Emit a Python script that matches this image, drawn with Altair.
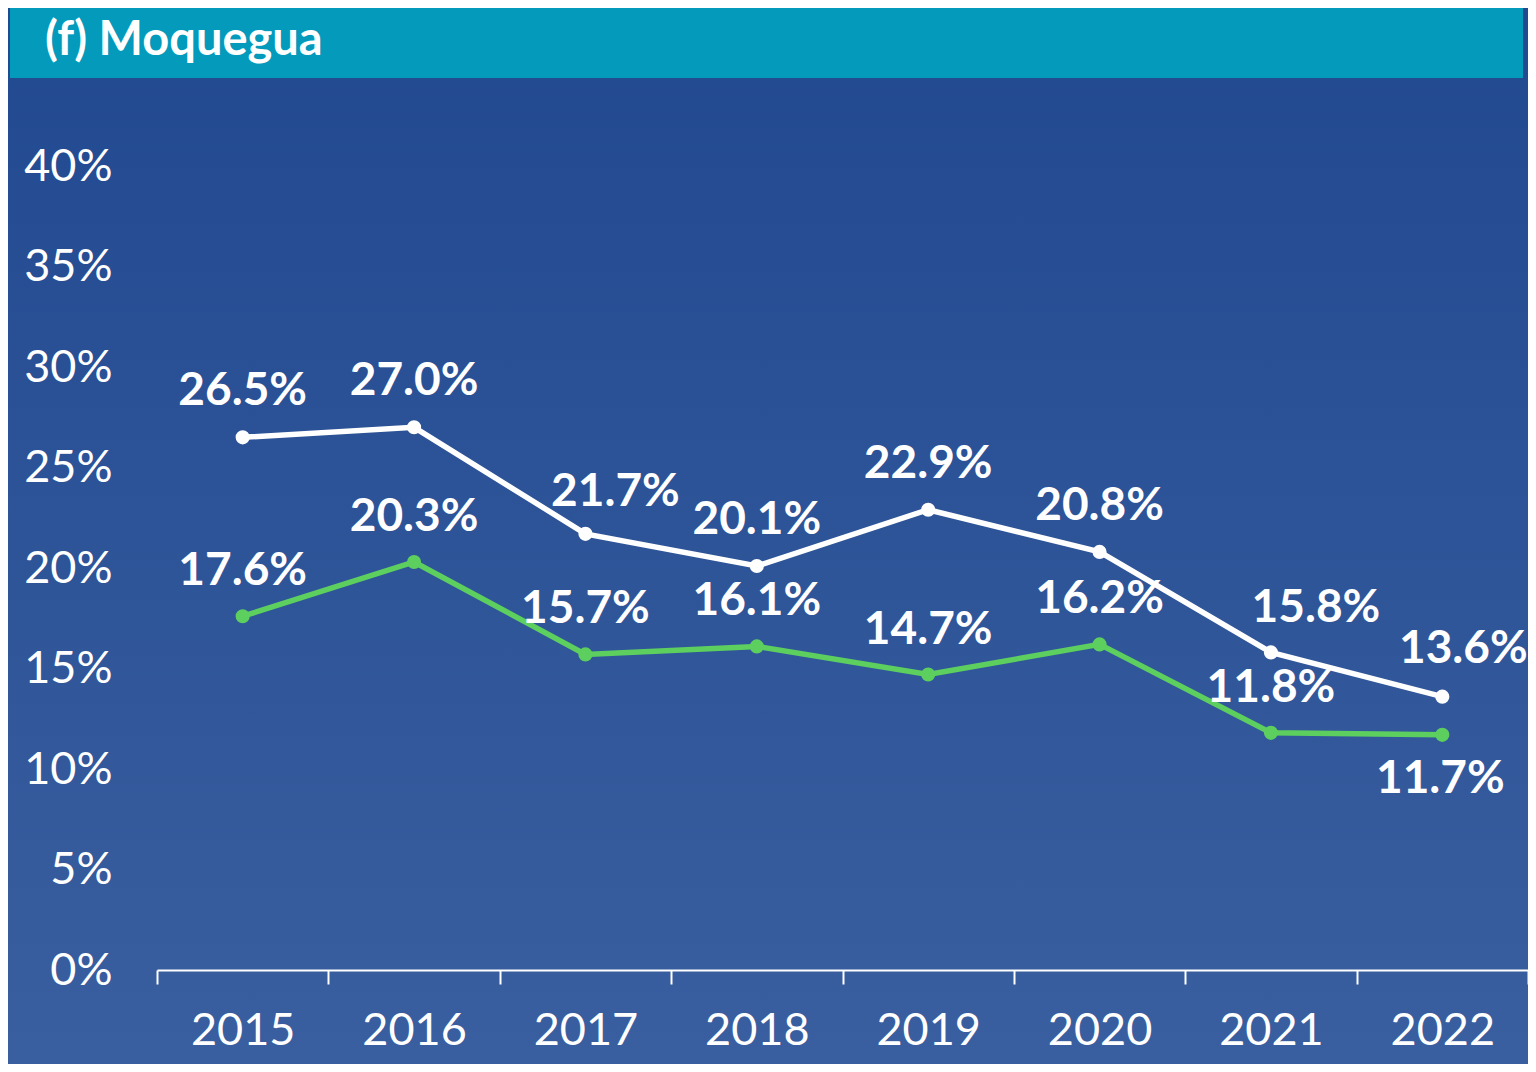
import json
import altair as alt
import pandas as pd

years = ["2015", "2016", "2017", "2018", "2019", "2020", "2021", "2022"]
series_white = [26.5, 27.0, 21.7, 20.1, 22.9, 20.8, 15.8, 13.6]
series_green = [17.6, 20.3, 15.7, 16.1, 14.7, 16.2, 11.8, 11.7]
series_names = ["Serie 1", "Serie 2"]
y_ticks = [0, 5, 10, 15, 20, 25, 30, 35, 40]
title_text = "(f) Moquegua"

rows = []
for y, v in zip(years, series_white):
    rows.append({"year": y, "value": v, "series": series_names[0]})
for y, v in zip(years, series_green):
    rows.append({"year": y, "value": v, "series": series_names[1]})
df = pd.DataFrame(rows)
df["label"] = df["value"].map(lambda v: f"{v:.1f}%")

FONT = "Lato"
W, H = 1371, 804
PL, PT, PR, PB = 149, 158, 0, 94

xenc = alt.X(
    "year:N",
    sort=years,
    scale=alt.Scale(type="band", paddingInner=0, paddingOuter=0),
    axis=alt.Axis(
        title=None, domainColor="white", domainWidth=2, tickColor="white",
        tickWidth=2, tickSize=14, tickBand="extent", labelFontSize=45,
        labelColor="white", labelPadding=24, labelAngle=0, labelFont=FONT,
        labelFontWeight=400, grid=False, zindex=1,
    ),
)
yenc = alt.Y(
    "value:Q",
    scale=alt.Scale(domain=[0, 40], nice=False),
    axis=alt.Axis(
        title=None, values=y_ticks, labelExpr="datum.value + '%'",
        domain=False, ticks=False, grid=False, labelFontSize=45,
        labelColor="white", labelFont=FONT, labelPadding=45, labelFontWeight=400,
        zindex=1,
    ),
)
cenc = alt.Color(
    "series:N",
    scale=alt.Scale(domain=series_names, range=["#ffffff", "#5dcf5f"]),
    legend=None,
)

dummy = pd.DataFrame({"t": [title_text]})

bg = alt.Chart(dummy).mark_rect(
    fill=alt.Gradient(
        gradient="linear",
        stops=[alt.GradientStop(color="#214990", offset=0),
               alt.GradientStop(color="#3a5fa0", offset=1)],
        x1=0, x2=0, y1=0, y2=1,
    )
).encode(x=alt.value(-PL), x2=alt.value(W + PR), y=alt.value(-PT), y2=alt.value(H + PB))

bar = alt.Chart(dummy).mark_rect(color="#039abc").encode(
    x=alt.value(-147), x2=alt.value(1366), y=alt.value(-162), y2=alt.value(-88)
)

title = alt.Chart(dummy).mark_text(
    align="left", baseline="middle", fontSize=47, fontWeight="bold",
    color="white", font=FONT
).encode(x=alt.value(-112), y=alt.value(-125), text="t:N")

lines = alt.Chart(df).mark_line(strokeWidth=5.5).encode(x=xenc, y=yenc, color=cenc)
points = alt.Chart(df).mark_point(filled=True, size=200, opacity=1).encode(
    x=xenc, y=yenc, color=cenc
)


def labels(series, yrs, dx, dy):
    expr = f"datum.series == '{series}' && indexof({json.dumps(yrs)}, datum.year) >= 0"
    return alt.Chart(df).transform_filter(expr).mark_text(
        fontSize=46, fontWeight="bold", font=FONT, color="white", dx=dx, dy=dy
    ).encode(x=alt.X("year:N", sort=years), y="value:Q", text="label:N")


lab_layers = [
    labels(series_names[0], ["2015", "2016", "2018", "2019", "2020"], 0, -46),
    labels(series_names[0], ["2017"], 30, -42),
    labels(series_names[0], ["2021"], 45, -44),
    labels(series_names[0], ["2022"], 21, -48),
    labels(series_names[1], ["2015", "2016", "2017", "2018", "2019", "2020", "2021"], 0, -45),
    labels(series_names[1], ["2022"], -2, 44),
]

chart = alt.layer(bg, bar, title, lines, points, *lab_layers).properties(
    width=W, height=H,
    autosize=alt.AutoSizeParams(type="none"),
    padding={"left": PL, "top": PT, "right": PR, "bottom": PB},
    background="#2b5296",
).configure_view(stroke=None)

chart.save("out.html", embed_options={"renderer": "svg", "actions": False})
